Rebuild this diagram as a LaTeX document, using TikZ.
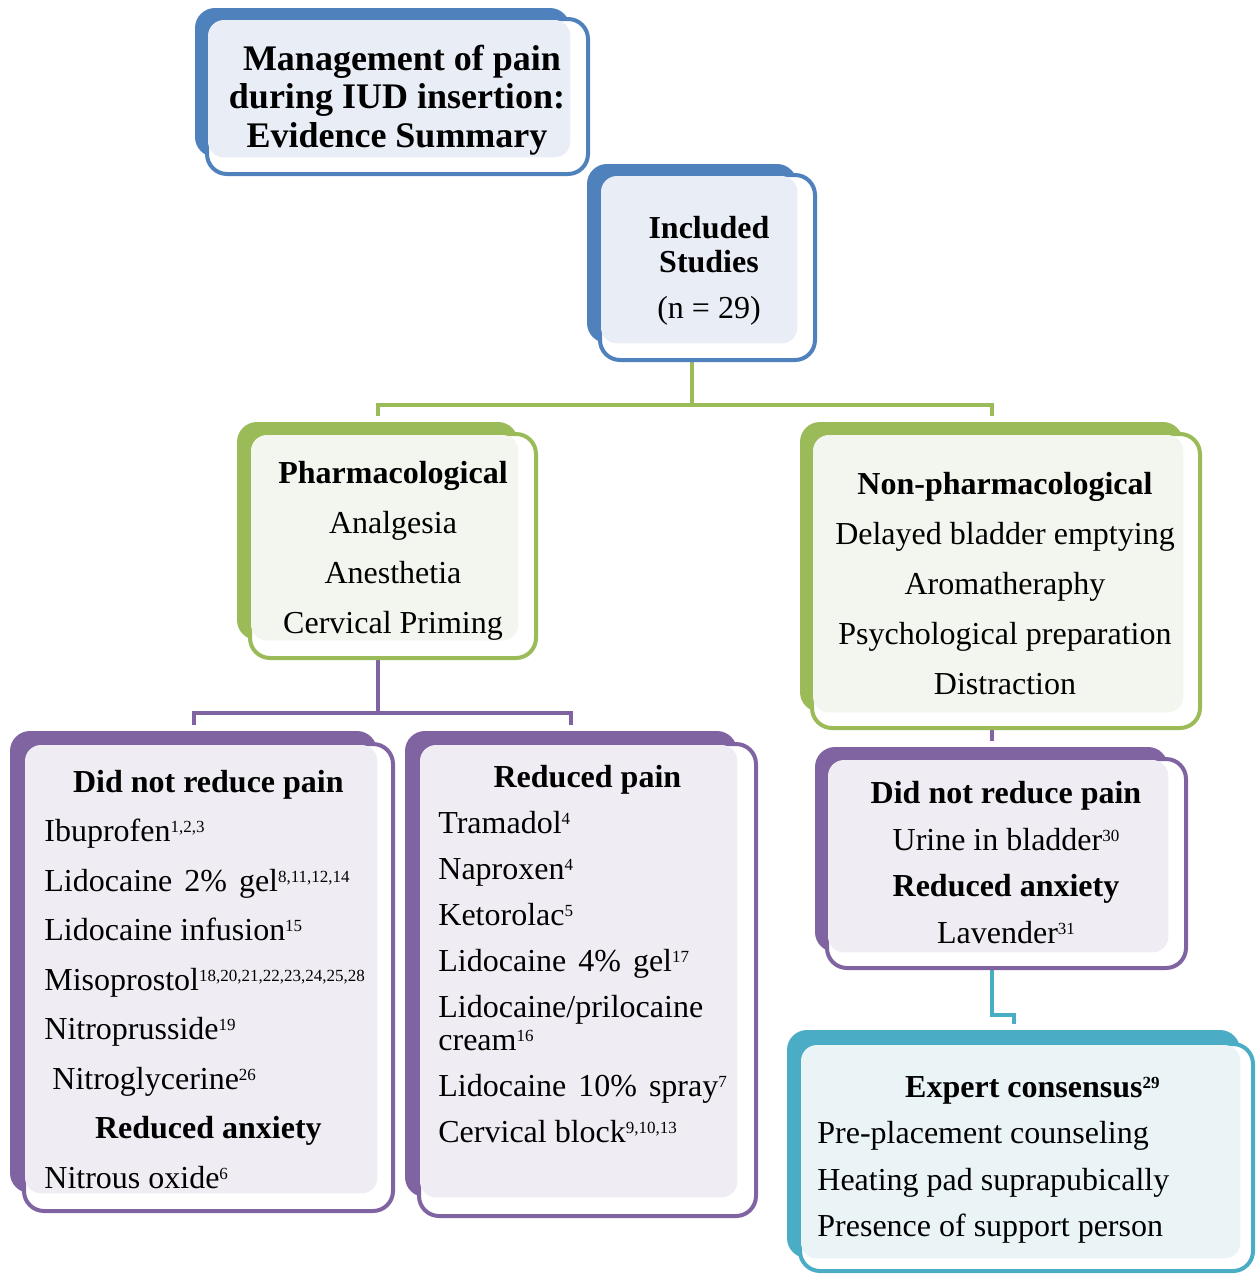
\documentclass[tikz,border=0pt]{standalone}
\usepackage{fontspec}
\setmainfont{Liberation Serif}
\usetikzlibrary{fit,calc}

\definecolor{blueC}{HTML}{4F81BD}
\definecolor{blueT}{HTML}{E9EEF6}
\definecolor{greenC}{HTML}{9BBB59}
\definecolor{greenT}{HTML}{F3F6EE}
\definecolor{purpC}{HTML}{8064A2}
\definecolor{purpT}{HTML}{EFEDF3}
\definecolor{tealC}{HTML}{4BACC6}
\definecolor{tealT}{HTML}{EAF4F7}

\newcommand\refn[1]{\raisebox{4.5pt}{\fontsize{8.5}{8.5}\selectfont #1}}
\newcommand\hd[1]{\makebox[\hsize]{\bfseries #1}}
\newcommand\wsp{\hspace{6pt}}
\newcommand\tint[3]{\fill[#1,rounded corners=8pt] ([shift={(3,3)}]#2.north west) rectangle (#3.south east);}

\pgfdeclarelayer{bg}
\pgfsetlayers{bg,main}

\tikzset{
  back/.style={fill=#1, rounded corners=10pt, inner sep=0pt},
  front/.style={draw=#1, fill=white, line width=2pt, rounded corners=10pt, inner sep=0pt},
  link/.style={draw=#1, line width=2pt},
  txt/.style={inner sep=0pt, font=\fontsize{16}{25}\selectfont},
}

\begin{document}
\begin{tikzpicture}[x=0.5pt,y=-0.5pt]
  \useasboundingbox (0,0) rectangle (1256,1275);
  % title
  \node[back=blueC,fit={(195,8) (570,157)}] (titleB) {};
  \node[front=blueC,fit={(207,19) (588,174)}] (titleF) {};
  \tint{blueT}{titleF}{titleB}
  \node[txt,font=\fontsize{18}{19.25}\selectfont\bfseries,align=center,anchor=base] (title) at (397,147) {
    \hspace*{5pt}Management of pain\\
    during IUD insertion:\\
    Evidence Summary};
  % included studies
  \node[back=blueC,fit={(587,164) (797,343)}] (inclB) {};
  \node[front=blueC,fit={(600,175) (815,360)}] (inclF) {};
  \tint{blueT}{inclF}{inclB}
  \node[txt,font=\fontsize{16}{17}\selectfont,align=center,anchor=base] (incl) at (709,318) {
    \textbf{Included}\\
    \textbf{Studies}\\[6pt]
    (n = 29)};
  % pharmacological
  \node[back=greenC,fit={(237,422) (518,640)}] (pharmB) {};
  \node[front=greenC,fit={(250,434) (536,658)}] (pharmF) {};
  \tint{greenT}{pharmF}{pharmB}
  \node[txt,align=center,anchor=base] (pharm) at (393,633) {
    \textbf{Pharmacological}\\
    Analgesia\\
    Anesthetia\\
    Cervical Priming};
  % non-pharmacological
  \node[back=greenC,fit={(800,422) (1183,712)}] (nonpB) {};
  \node[front=greenC,fit={(812,434) (1200,728)}] (nonpF) {};
  \tint{greenT}{nonpF}{nonpB}
  \node[txt,align=center,anchor=base] (nonp) at (1005,694) {
    \textbf{Non-pharmacological}\\
    Delayed bladder emptying\\
    Aromatheraphy\\
    Psychological preparation\\
    Distraction};
  % did not reduce pain (pharm.)
  \node[back=purpC,fit={(10,731) (377,1193)}] (dnrB) {};
  \node[front=purpC,fit={(24,744) (393,1211)}] (dnrF) {};
  \tint{purpT}{dnrF}{dnrB}
  \node[txt,font=\fontsize{16}{24.75}\selectfont,text width=164pt,align=flush left,anchor=base west] (dnr) at (44,792) {
    \hd{Did not reduce pain}\\
    Ibuprofen\refn{1,2,3}\\
    Lidocaine\wsp 2\%\wsp gel\refn{8,11,12,14}\\
    Lidocaine infusion\refn{15}\\
    Misoprostol\refn{18,20,21,22,23,24,25,28}\\
    Nitroprusside\refn{19}\\
    \hspace*{4pt}Nitroglycerine\refn{26}\\
    \hd{Reduced anxiety}\\
    Nitrous oxide\refn{6}};
  % reduced pain
  \node[back=purpC,fit={(405,731) (737,1197)}] (redB) {};
  \node[front=purpC,fit={(419,744) (756,1216)}] (redF) {};
  \tint{purpT}{redF}{redB}
  \node[txt,font=\fontsize{16}{23}\selectfont,text width=149pt,align=flush left,anchor=base west] (red) at (438,787) {
    \hd{Reduced pain}\\
    Tramadol\refn{4}\\
    Naproxen\refn{4}\\
    Ketorolac\refn{5}\\
    Lidocaine\wsp 4\%\wsp gel\refn{17}\\
    Lidocaine/prilocaine\\[-6.5pt]
    cream\refn{16}\\
    Lidocaine\wsp 10\%\wsp spray\refn{7}\\
    Cervical block\refn{9,10,13}};
  % did not reduce pain (non-pharm.)
  \node[back=purpC,fit={(815,747) (1168,952)}] (nrpB) {};
  \node[front=purpC,fit={(827,759) (1186,968)}] (nrpF) {};
  \tint{purpT}{nrpF}{nrpB}
  \node[txt,font=\fontsize{16}{23.25}\selectfont,align=center,anchor=base] (nrp) at (1006,943) {
    \textbf{Did not reduce pain}\\
    Urine in bladder\refn{30}\\
    \textbf{Reduced anxiety}\\
    Lavender\refn{31}};
  % expert consensus
  \node[back=tealC,fit={(787,1030) (1240,1258)}] (expB) {};
  \node[front=tealC,fit={(800,1044) (1253,1271)}] (expF) {};
  \tint{tealT}{expF}{expB}
  \node[txt,font=\fontsize{16}{23.3}\selectfont,text width=215pt,align=flush left,anchor=base west] (exp) at (817,1097) {
    \hd{Expert consensus\refn{29}}\\
    Pre-placement counseling\\
    Heating pad suprapubically\\
    Presence of support person};
  %% links
  \begin{pgfonlayer}{bg}
    \draw[link=greenC] (inclB.south) |- ([yshift=8.5pt]pharmB.north) -- ([yshift=3pt]pharmB.north);
    \draw[link=greenC] (inclB.south) |- ([yshift=8.5pt]nonpB.north) -- ([yshift=3pt]nonpB.north);
    \draw[link=purpC] (pharmB.south) |- ([yshift=9pt]dnrB.north) -- ([yshift=3pt]dnrB.north);
    \draw[link=purpC] (pharmB.south) |- ([yshift=9pt]redB.north) -- ([yshift=3pt]redB.north);
    \draw[link=purpC] (nonpB.south) -- ([yshift=3pt]nrpB.north);
    \draw[link=tealC] (nrpB.south) |- ([yshift=7.5pt]expB.north) -- ([yshift=3pt]expB.north);
  \end{pgfonlayer}
\end{tikzpicture}
\end{document}
